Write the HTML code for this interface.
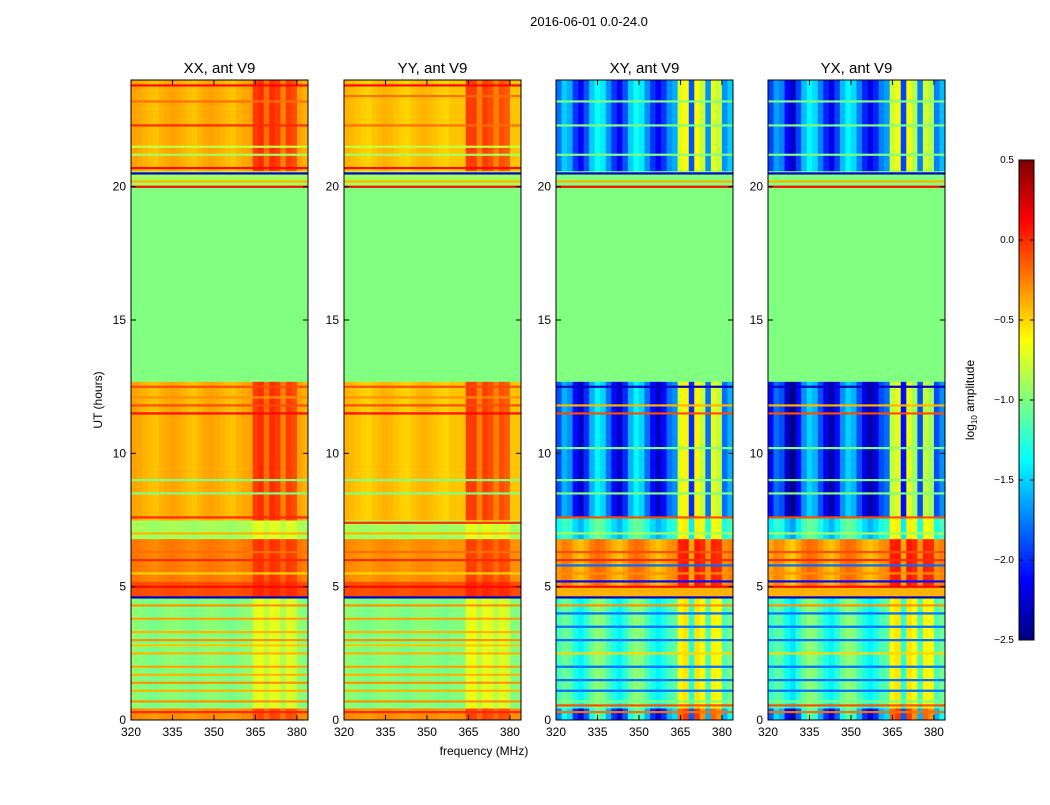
<!DOCTYPE html>
<html><head><meta charset="utf-8"><style>
body{margin:0;background:#fff;font-family:"Liberation Sans",sans-serif;}
svg text{font-family:"Liberation Sans",sans-serif;}
</style></head><body>
<svg id="chart" width="1050" height="800" xmlns="http://www.w3.org/2000/svg">
<rect width="1050" height="800" fill="#fff"/>
<text x="589" y="26" font-size="13" text-anchor="middle">2016-06-01 0.0-24.0</text>
<text x="484" y="755" font-size="12" text-anchor="middle">frequency (MHz)</text>
<text transform="translate(102,400) rotate(-90)" font-size="12" text-anchor="middle">UT (hours)</text>
<g id="panels"></g>
<defs><linearGradient id="jet" x1="0" y1="1" x2="0" y2="0">
<stop offset="0" stop-color="#00007f"/><stop offset="0.125" stop-color="#0000ff"/><stop offset="0.375" stop-color="#00ffff"/><stop offset="0.625" stop-color="#ffff00"/><stop offset="0.875" stop-color="#ff0000"/><stop offset="1" stop-color="#7f0000"/></linearGradient></defs>
<g id="cbar">
<rect x="1019" y="160" width="15" height="480" fill="url(#jet)" stroke="#000" stroke-width="1"/>
<text transform="translate(974,400) rotate(-90)" font-size="12" text-anchor="middle">log<tspan font-size="8" dy="3">10</tspan><tspan dy="-3"> amplitude</tspan></text>
</g>
</svg>
<script>
const NS='http://www.w3.org/2000/svg';
const panelTitles=['XX, ant V9','YY, ant V9','XY, ant V9','YX, ant V9'];
const xTicks=[320,335,350,365,380];
const yTicks=[0,5,10,15,20];
const cbTicks=[0.5,0.0,-0.5,-1.0,-1.5,-2.0,-2.5];
const freqBins=[320,322,324,326,328,330,332,334,336,338,340,342,344,346,348,350,352,354,356,358,360,362,364,366,368,370,372,374,376,378,380,382,384];
const colXX=[0.05,0.03,0,-0.03,-0.05,0,0.03,0.05,0.03,0,-0.03,-0.05,0,0.03,0.05,0.03,0,-0.03,-0.05,0,0.03,0.05,0.35,0.4,0.2,0.4,0.35,0.15,0.35,0.3,0.05,0.0];
const colYY=[0.05,0.03,0,-0.03,-0.05,0,0.03,0.05,0.03,0,-0.03,-0.05,0,0.03,0.05,0.03,0,-0.03,-0.05,0,0.0,0.0,0.4,0.4,0.2,0.4,0.35,0.2,0.35,0.3,0.0,0.0];
const colXY=[-0.1,0.2,0.1,-0.3,-0.5,-0.2,0.2,0.4,0.3,0.0,-0.3,-0.5,-0.2,0.2,0.4,0.3,0.0,-0.3,-0.5,-0.3,0.0,0.1,1.1,1.2,-0.2,1.2,1.0,0.0,1.1,1.0,0.0,0.2];
const colYX=[-0.2,0.1,0.0,-0.4,-0.6,-0.2,0.2,0.4,0.3,0.0,-0.3,-0.5,-0.2,0.2,0.4,0.3,0.0,-0.3,-0.5,-0.3,0.0,0.1,1.1,1.2,-0.2,1.2,1.0,0.0,1.1,1.0,0.0,0.2];
// segments: [startHour,endHour,baseValue,columnStrength]
const segXX=[[0,0.45,-0.3,0.6],[0.45,4.6,-1.0,0.8],[4.6,5.2,-0.1,0.3],[5.2,6.8,-0.25,0.6],[6.8,7.5,-0.9,0.5],[7.5,12.7,-0.4,1.0],[12.7,20,-1.0,0],[20,20.6,-0.9,0],[20.6,24,-0.4,1.0]];
const segYY=[[0,0.45,-0.3,0.6],[0.45,4.6,-1.0,0.8],[4.6,5.2,-0.1,0.3],[5.2,6.8,-0.3,0.6],[6.8,7.5,-0.9,0.5],[7.5,12.7,-0.45,1.0],[12.7,20,-1.0,0],[20,20.6,-0.9,0],[20.6,24,-0.45,1.0]];
const segXY=[[0,0.45,-1.6,1.3],[0.45,4.6,-1.15,0.5],[4.6,5.0,-0.4,0],[5.0,6.8,-0.3,0.3],[6.8,7.6,-1.3,0.6],[7.6,12.7,-1.8,1.0],[12.7,20,-1.0,0],[20,20.6,-1.0,0],[20.6,24,-1.7,0.9]];
const segYX=[[0,0.45,-1.6,1.3],[0.45,4.6,-1.15,0.5],[4.6,5.0,-0.4,0],[5.0,6.8,-0.3,0.3],[6.8,7.6,-1.3,0.6],[7.6,12.7,-1.9,1.0],[12.7,20,-1.0,0],[20,20.6,-1.0,0],[20.6,24,-1.75,0.9]];
// thin horizontal lines: [hour,value]
const linesXX=[[0.3,0.0],[0.7,-0.3],[1.1,-0.4],[1.4,-0.3],[1.7,-0.4],[2.0,-0.35],[2.5,-0.4],[2.8,-0.45],[3.0,-0.3],[3.3,-0.4],[3.8,-0.35],[4.3,-0.3],[4.6,-2.3],[5.0,0.1],[5.5,-0.5],[6.0,0.0],[6.3,-0.2],[7.0,-0.4],[7.6,0.0],[8.5,-1.0],[9.0,-1.0],[11.5,0.1],[11.8,-0.1],[12.1,-0.3],[12.5,-0.1],[20.0,0.1],[20.2,-0.4],[20.5,-2.3],[20.7,0.1],[21.2,-0.9],[21.5,-0.8],[22.3,0.0],[23.2,-0.2],[23.8,0.1]];
const linesYY=[[0.3,0.0],[0.7,-0.3],[1.1,-0.4],[1.4,-0.3],[1.7,-0.4],[2.0,-0.35],[2.5,-0.4],[2.8,-0.45],[3.0,-0.3],[3.3,-0.4],[3.8,-0.35],[4.3,-0.3],[4.6,-2.3],[5.0,0.1],[5.5,-0.5],[6.0,0.0],[6.3,-0.2],[7.0,-0.4],[7.4,0.0],[8.5,-1.0],[9.0,-1.0],[11.5,0.1],[11.8,-0.1],[12.1,-0.3],[12.5,-0.1],[20.0,0.1],[20.2,-0.4],[20.5,-2.3],[20.7,0.1],[21.2,-0.9],[21.5,-0.8],[22.3,-0.2],[23.4,-0.2],[23.8,0.1]];
const linesXY=[[0.3,-0.2],[0.55,-0.1],[0.7,-1.0],[1.1,-1.8],[1.5,-1.8],[2.0,-1.8],[2.5,-0.5],[3.0,-1.8],[3.5,-1.8],[4.0,-1.8],[4.3,-0.3],[4.6,-2.3],[5.0,0.1],[5.2,-2.1],[5.5,-0.3],[5.8,-1.8],[6.0,0.0],[6.3,-0.1],[7.0,-0.9],[7.6,-0.1],[8.5,-1.0],[9.0,-1.0],[10.2,-1.0],[11.5,-0.1],[11.8,-0.4],[12.5,-2.3],[20.0,0.1],[20.2,-0.4],[20.5,-2.3],[21.2,-1.0],[22.3,-1.0],[23.2,-1.0]];
const linesYX=linesXY;
const segsAll=[segXX,segYY,segXY,segYX];
const colsAll=[colXX,colYY,colXY,colYX];
const linesAll=[linesXX,linesYY,linesXY,linesYX];
const panelLeft=[131,344,556,768];
const PW=177, PT=80, PB=720, FMIN=320, FMAX=384, TMAX=24, VMIN=-2.5, VMAX=0.5;
function cl(v){return Math.max(0,Math.min(1,v));}
function jet(v){const x=cl((v-VMIN)/(VMAX-VMIN));
 const r=cl(1.5-Math.abs(4*x-3)),g=cl(1.5-Math.abs(4*x-2)),b=cl(1.5-Math.abs(4*x-1));
 return `rgb(${Math.round(r*255)},${Math.round(g*255)},${Math.round(b*255)})`;}
function el(tag,attrs,parent){const e=document.createElementNS(NS,tag);for(const k in attrs)e.setAttribute(k,attrs[k]);parent.appendChild(e);return e;}
const root=document.getElementById('panels');
for(let p=0;p<4;p++){
 const L=panelLeft[p];
 const xs=f=>L+(f-FMIN)/(FMAX-FMIN)*PW;
 const ys=t=>PB-(t/TMAX)*(PB-PT);
 const g=el('g',{},root);
 
 
 segsAll[p].forEach(s=>{
  for(let c=0;c<colsAll[p].length;c++){
   const v=s[2]+s[3]*colsAll[p][c];
   const r=el('rect',{x:xs(freqBins[c]),y:ys(s[1]),width:xs(freqBins[c+1])-xs(freqBins[c])+0.5,height:ys(s[0])-ys(s[1])+0.5,fill:jet(v)},g);
   
   
  }
 });
 linesAll[p].forEach(l=>{
  const r=el('rect',{x:L,y:ys(l[0])-1,width:PW,height:2.2,fill:jet(l[1])},g);
  
  
 });
 el('rect',{x:L,y:PT,width:PW,height:PB-PT,fill:'none',stroke:'#000','stroke-width':1},g);
 const t=el('text',{x:L+PW/2,y:PT-7,'font-size':15,'text-anchor':'middle'},g);
 t.textContent=panelTitles[p];
 
 
 xTicks.forEach(f=>{
  const x=xs(f);
  el('line',{x1:x,x2:x,y1:PB,y2:PB-5,stroke:'#000'},g);
  el('line',{x1:x,x2:x,y1:PT,y2:PT+5,stroke:'#000'},g);
  const tx=el('text',{x:x,y:PB+16,'font-size':12,'text-anchor':'middle'},g);
  tx.textContent=f;
  
  
 });
 yTicks.forEach(h=>{
  const y=ys(h);
  el('line',{x1:L,x2:L+5,y1:y,y2:y,stroke:'#000'},g);
  el('line',{x1:L+PW,x2:L+PW-5,y1:y,y2:y,stroke:'#000'},g);
  const ty=el('text',{x:L-5,y:y+4,'font-size':12,'text-anchor':'end'},g);
  ty.textContent=h;
  
  
 });
}
const cb=document.getElementById('cbar');
cbTicks.forEach(v=>{
 const y=160+(VMAX-v)/(VMAX-VMIN)*480;
 el('line',{x1:1019,x2:1023,y1:y,y2:y,stroke:'#000'},cb);
 el('line',{x1:1034,x2:1030,y1:y,y2:y,stroke:'#000'},cb);
 const t=el('text',{x:1014,y:y+3,'font-size':10,'text-anchor':'end'},cb);
 t.textContent=(v<0?'\u2212':'')+Math.abs(v).toFixed(1);
 
 
});
</script>
</body></html>
